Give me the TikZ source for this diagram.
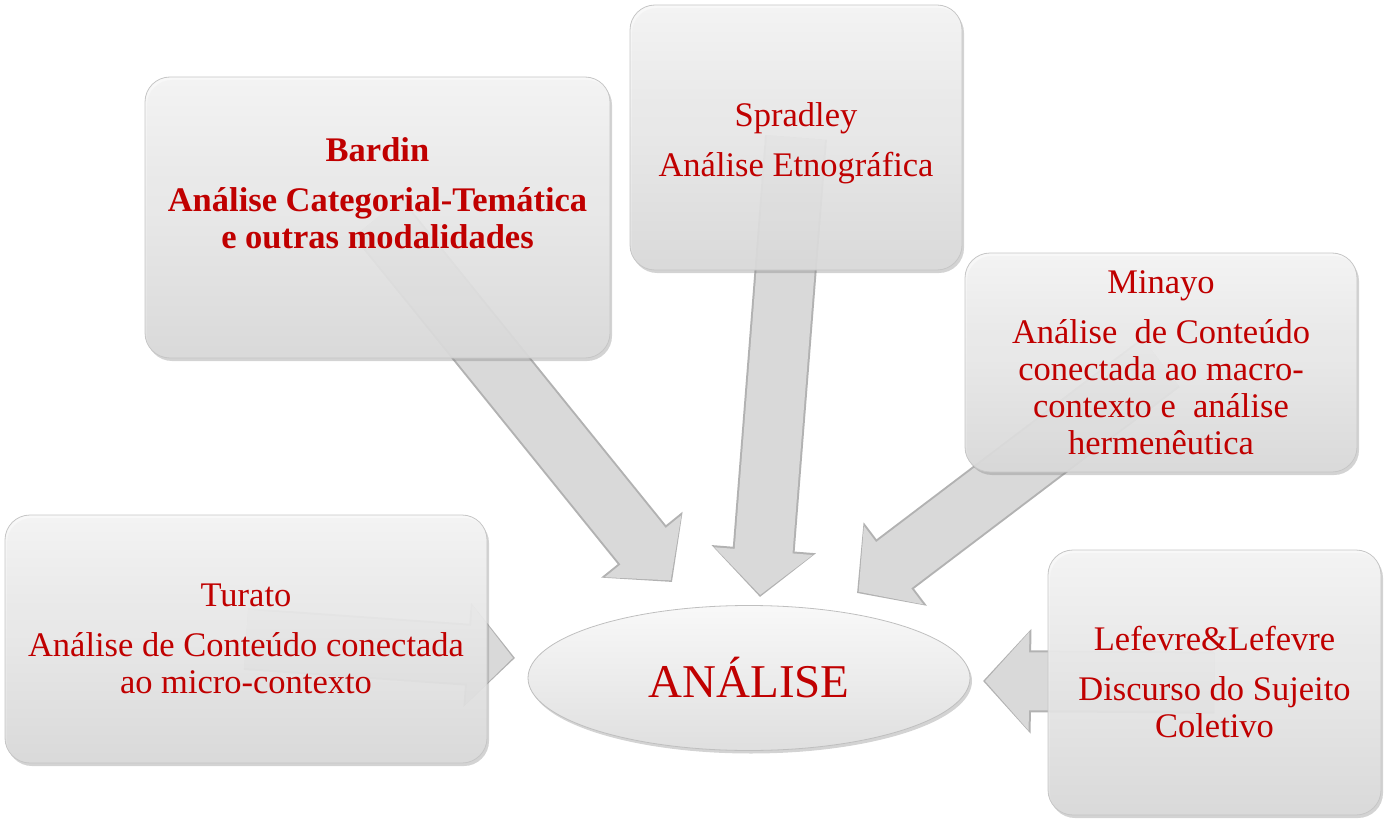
\documentclass[tikz,border=0pt]{standalone}
\usepackage{fontspec}
\setmainfont{Liberation Serif}
\usetikzlibrary{shapes.geometric,arrows.meta,shadows,backgrounds}
\definecolor{txtred}{HTML}{C00000}
\tikzset{
  box/.style={rectangle, rounded corners=25pt, draw=gray!45, line width=0.8pt,
    top color=gray!6, bottom color=gray!28, fill opacity=0.9, text opacity=1,
    text=txtred, align=center, inner sep=4pt, font=\fontsize{34.5}{37}\selectfont,
    drop shadow={shadow xshift=2pt, shadow yshift=-3pt, opacity=0.35, fill=gray}},
  flow/.style={line width=58pt, gray!30, shorten >=2pt,
    -{Triangle[length=44pt,width=96pt]},
    preaction={draw=gray!60, line width=62pt, shorten >=0pt,
      -{Triangle[length=48pt,width=102pt]}}}
}
\begin{document}
\begin{tikzpicture}[x=1pt,y=-1pt]
\useasboundingbox (0,0) rectangle (1384,821);

\node[box, minimum width=465pt, minimum height=281pt] (bardin) at (377.5,217.5)
  {\textbf{Bardin}\\[13pt]\textbf{Análise Categorial-Temática}\\\textbf{e outras modalidades}\\[12pt]\mbox{}};
\node[box, minimum width=332pt, minimum height=265pt] (spradley) at (796,137.5)
  {\rule{0pt}{35pt}Spradley\\[13pt]Análise Etnográfica};
\node[box, minimum width=392pt, minimum height=219pt] (minayo) at (1161,362.5)
  {Minayo\\[13pt]Análise\ \ de Conteúdo\\conectada ao macro-\\contexto e\ \ análise\\hermenêutica};
\node[box, minimum width=482pt, minimum height=248pt] (turato) at (246,639)
  {Turato\\[13pt]Análise de Conteúdo conectada\\ao micro-contexto};
\node[box, minimum width=333pt, minimum height=265pt] (lefevre) at (1214.5,682.5)
  {Lefevre\&Lefevre\\[13pt]Discurso do Sujeito\\Coletivo};

\node[ellipse, minimum width=442pt, minimum height=145pt, draw=gray!50, line width=0.8pt,
  top color=gray!5, bottom color=gray!25, text=txtred, font=\fontsize{47}{50}\selectfont,
  drop shadow={shadow xshift=2pt, shadow yshift=-3pt, opacity=0.35, fill=gray}]
  (analise) at (749,678) {ANÁLISE};

\coordinate (tipB) at (672,582);
\coordinate (tipS) at (760,597);
\coordinate (tipM) at (857,593);
\coordinate (tipT) at (515,658);
\coordinate (tipL) at (983,681);

\begin{scope}[on background layer]
\draw[flow] (bardin.center) -- (tipB);
\draw[flow] (spradley.center) -- (tipS);
\draw[flow] (minayo.center) -- (tipM);
\draw[flow] (turato.center) -- (tipT);
\draw[flow] (lefevre.center) -- (tipL);
\end{scope}
\end{tikzpicture}
\end{document}
